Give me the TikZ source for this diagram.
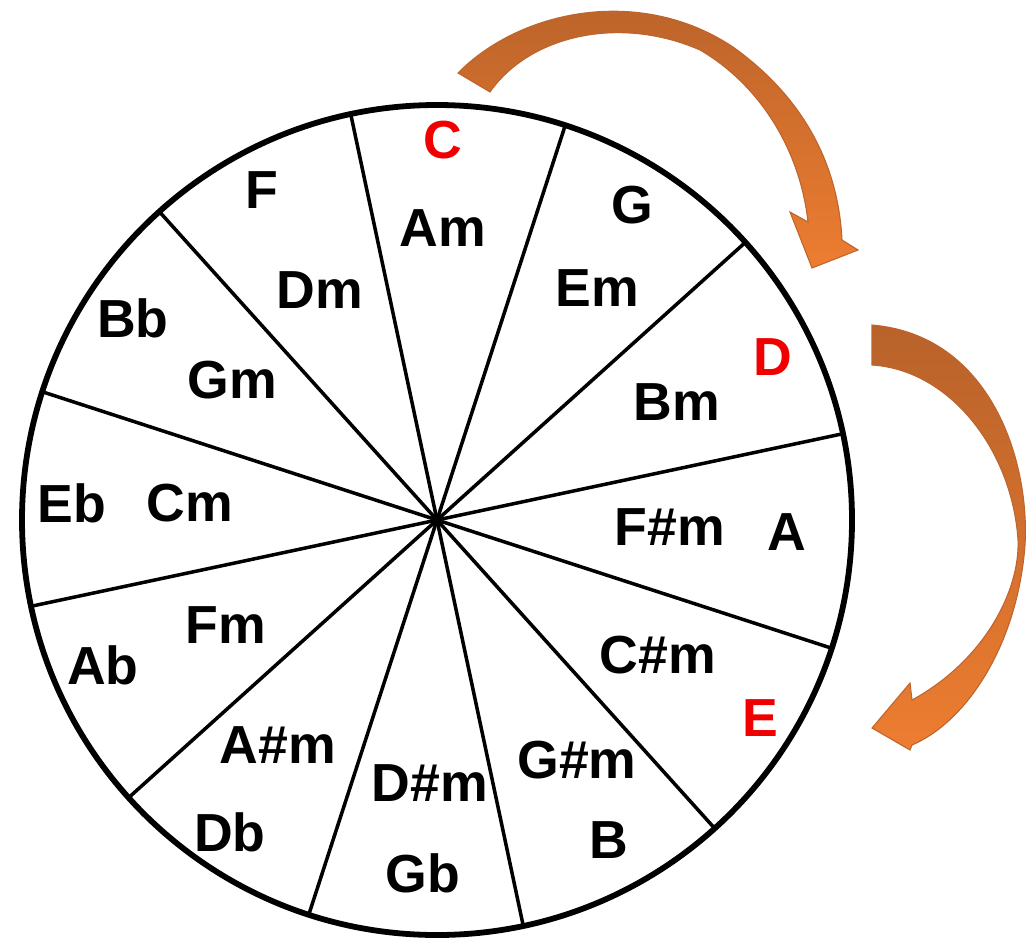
\documentclass[tikz,border=0pt]{standalone}
\usepackage{fontspec}
\setmainfont{Liberation Sans}
\begin{document}
\begin{tikzpicture}[x=0.02cm,y=-0.02cm,
  lab/.style={font=\fontsize{30.5}{30}\selectfont\bfseries, inner sep=0pt},
  key/.style={lab, text={rgb,255:red,240;green,0;blue,0}},
  arr/.style={draw={rgb,255:red,190;green,100;blue,45}, line width=0.6pt, top color={rgb,255:red,184;green,98;blue,42}, bottom color={rgb,255:red,237;green,125;blue,49}}]
\useasboundingbox (0,0) rectangle (1026,950);
\coordinate (O) at (437,520);
\foreach \a in {102,72,42,12,-18,-48,-78,-108,-138,-168,162,132}
  \draw[line width=2pt] (O) -- ++(\a:415 and -415);
\draw[line width=3.3pt] (O) circle[radius=415];
% labels
\node[key] (C) at (443,140) {C};
\node[lab] (Am) at (443,228) {Am};
\node[lab] (F) at (262,190) {F};
\node[lab] (Dm) at (320,290) {Dm};
\node[lab] (G) at (632,205) {G};
\node[lab] (Em) at (597,288) {Em};
\node[lab] (Bb) at (133,318) {Bb};
\node[lab] (Gm) at (232,380) {Gm};
\node[key] (D) at (773,357) {D};
\node[lab] (Bm) at (677,402) {Bm};
\node[lab] (Eb) at (72,503) {Eb};
\node[lab] (Cm) at (190,503) {Cm};
\node[lab] (Fsm) at (670,527) {F\#m};
\node[lab] (A) at (787,532) {A};
\node[lab] (Ab) at (103,665) {Ab};
\node[lab] (Fm) at (226,625) {Fm};
\node[lab] (Csm) at (658,655) {C\#m};
\node[key] (E) at (760,718) {E};
\node[lab] (Asm) at (278,745) {A\#m};
\node[lab] (Db) at (230,832) {Db};
\node[lab] (Dsm) at (430,783) {D\#m};
\node[lab] (Gb) at (423,873) {Gb};
\node[lab] (Gsm) at (577,760) {G\#m};
\node[lab] (B) at (609,840) {B};
% arrow 1
\path[arr] (458,73) .. controls (520,10) and (640,-15) .. (733,47)
  .. controls (800,95) and (838,160) .. (842,240) -- (858,250) -- (812,268) -- (790,212) -- (808,222)
  .. controls (800,150) and (760,85) .. (700,50)
  .. controls (620,15) and (530,35) .. (490,92) -- cycle;
% arrow 2
\path[arr] (872,325) .. controls (990,335) and (1030,460) .. (1025,545)
  .. controls (1018,640) and (970,720) .. (912,745) -- (910,750) -- (872,728) -- (910,683) -- (912,700)
  .. controls (985,660) and (1020,590) .. (1018,540)
  .. controls (1012,450) and (950,370) .. (872,365) -- cycle;
\end{tikzpicture}
\end{document}
